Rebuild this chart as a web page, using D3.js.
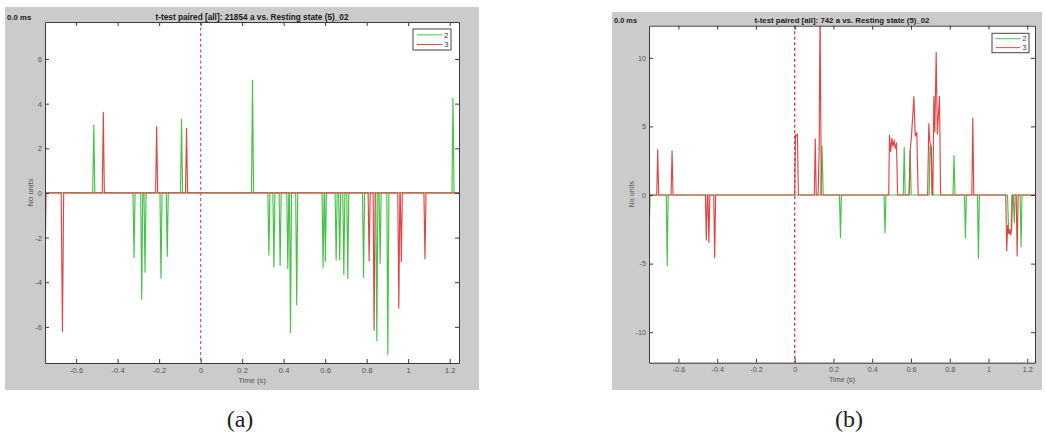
<!DOCTYPE html>
<html><head><meta charset="utf-8">
<script src="https://cdn.jsdelivr.net/npm/d3@7/dist/d3.min.js"></script>
<style>body{margin:0;background:#fff}svg{display:block}</style>
</head><body><svg id="c" width="1046" height="436"></svg>
<script>
// ---------- data ----------
const seriesNames = ["2", "3"];
const xTicks = [-0.6, -0.4, -0.2, 0, 0.2, 0.4, 0.6, 0.8, 1, 1.2];
const yTicksA = [-6, -4, -2, 0, 2, 4, 6];
const yTicksB = [-10, -5, 0, 5, 10];
const titleA = "t-test paired [all]: 21854 a vs. Resting state (5)_02";
const titleB = "t-test paired [all]: 742 a vs. Resting state (5)_02";
const cornerLabel = "0.0 ms";
const xLabel = "Time (s)";
const yLabel = "No units";
const captions = ["(a)", "(b)"];
const markerTime = 0;

// panel (a), series "2" : [time (s), value]
const seriesA2 = [
  [-0.75,0],
  [-0.52,0],[-0.515,3.04],[-0.51,0],
  [-0.326,0],[-0.321,-2.9],[-0.316,0],
  [-0.289,0],[-0.284,-4.76],[-0.279,0],
  [-0.273,0],[-0.268,-3.55],[-0.263,0],
  [-0.196,0],[-0.191,-3.82],[-0.186,0],
  [-0.166,0],[-0.161,-2.85],[-0.156,0],
  [-0.097,0],[-0.092,3.3],[-0.087,0],
  [0.245,0],[0.25,5.06],[0.255,0],
  [0.324,0],[0.329,-2.78],[0.334,0],
  [0.348,0],[0.353,-3.33],[0.358,0],
  [0.378,0],[0.383,-3.25],[0.388,0],
  [0.415,0],[0.42,-3.4],[0.425,0],
  [0.428,0],[0.433,-6.25],[0.438,0],
  [0.458,0],[0.463,-5.02],[0.468,0],
  [0.585,0],[0.59,-3.35],[0.595,0],
  [0.597,0],[0.601,-3.07],[0.606,0],
  [0.648,0],[0.653,-3.0],[0.658,0],
  [0.665,0],[0.67,-3.0],[0.675,0],
  [0.685,0],[0.69,-3.65],[0.695,0],
  [0.704,0],[0.709,-3.83],[0.714,0],
  [0.78,0],[0.785,-3.78],[0.79,0],
  [0.844,0],[0.849,-6.62],[0.854,0],
  [0.86,0],[0.865,-3.16],[0.87,0],
  [0.897,0],[0.902,-7.25],[0.907,0],
  [1.211,0],[1.216,4.24],[1.221,0],
  [1.245,0]
];
// panel (a), series "3"
const seriesA3 = [
  [-0.75,-3.4],[-0.745,0],
  [-0.672,0],[-0.666,-6.2],[-0.66,0],
  [-0.474,0],[-0.469,3.61],[-0.464,0],
  [-0.217,0],[-0.212,2.97],[-0.207,0],
  [-0.073,0],[-0.068,2.9],[-0.063,0],
  [0.807,0],[0.812,-3.05],[0.817,0],
  [0.831,0],[0.836,-6.15],[0.841,0],
  [0.95,0],[0.955,-5.15],[0.96,0],
  [0.962,0],[0.967,-3.08],[0.972,0],
  [1.076,0],[1.081,-2.95],[1.086,0],
  [1.245,0]
];
// panel (b), series "2"
const seriesB2 = [
  [-0.752,-3.0],[-0.746,0],
  [-0.663,0],[-0.658,-5.15],[-0.653,0],
  [0.135,0],[0.141,3.57],[0.147,0],
  [0.231,0],[0.236,-3.09],[0.241,0],
  [0.461,0],[0.466,-2.75],[0.471,0],
  [0.56,0],[0.565,3.46],[0.57,0],
  [0.591,0],[0.596,3.25],[0.601,0],
  [0.694,0],[0.698,3.6],[0.703,3.4],[0.708,0],
  [0.817,0],[0.822,2.88],[0.827,0],
  [0.876,0],[0.881,-3.09],[0.886,0],
  [0.943,0],[0.948,-4.6],[0.953,0],
  [1.098,0],[1.104,-2.6],[1.11,-2.8],[1.116,-2.7],[1.121,0],
  [1.128,0],[1.133,-2.0],[1.138,0],
  [1.163,0],[1.168,-3.77],[1.173,0],
  [1.24,0]
];
// panel (b), series "3"
const seriesB3 = [
  [-0.752,0],
  [-0.712,0],[-0.707,3.33],[-0.702,0],
  [-0.638,0],[-0.633,3.22],[-0.628,0],
  [-0.461,0],[-0.456,-3.28],[-0.451,0],
  [-0.448,0],[-0.443,-3.46],[-0.438,0],
  [-0.418,0],[-0.413,-4.57],[-0.408,0],
  [0.0,0],[0.004,4.4],[0.009,4.3],[0.014,4.45],[0.019,0],
  [0.101,0],[0.106,4.1],[0.111,0],
  [0.121,0],[0.126,3.3],[0.131,13.5],[0.137,0],
  [0.485,0],[0.489,4.37],[0.495,3.16],[0.501,4.13],[0.507,3.52],[0.513,4.0],[0.519,3.4],[0.525,3.8],[0.531,0],
  [0.59,0],[0.596,3.3],[0.603,4.4],[0.615,7.17],[0.622,4.3],[0.63,4.55],[0.637,0],
  [0.686,0],[0.692,5.2],[0.698,3.8],[0.705,3.5],[0.71,0],
  [0.713,0],[0.718,7.2],[0.723,4.6],[0.73,10.4],[0.736,4.45],[0.747,7.2],[0.753,0],
  [0.914,0],[0.919,5.6],[0.924,0],
  [1.089,0],[1.094,-4.08],[1.099,-2.2],[1.104,-2.8],[1.109,-2.5],[1.114,-2.9],[1.119,-2.6],[1.124,0],
  [1.143,0],[1.148,-4.45],[1.153,0],
  [1.24,0]
];

// ---------- drawing ----------
const colors = ["#46c246", "#e04545"];
const FONT = "'Liberation Sans', Arial, sans-serif";
const svg = d3.select("#c");

const panels = [
  { id: "a", bg: [5, 7, 479, 390], left: 45, right: 459, top: 22, bottom: 363,
    xDomain: [-0.75, 1.245], yDomain: [-7.62, 7.66], yTicks: yTicksA,
    series: [seriesA2, seriesA3], title: titleA, titleW: 193, titleY: 19.5,
    legend: { x: 413, y: 29, w: 38, h: 21 }, cap: { x: 240 }, yLabX: 32.5, fs: 7.6,
    dash: "#dc5a78" },
  { id: "b", bg: [612, 12, 1042, 390], left: 649, right: 1035, top: 25.7, bottom: 362.7,
    xDomain: [-0.752, 1.24], yDomain: [-12.22, 12.34], yTicks: yTicksB,
    series: [seriesB2, seriesB3], title: titleB, titleW: 175, titleY: 22.8,
    legend: { x: 992, y: 33.3, w: 37, h: 19.4 }, cap: { x: 849 }, yLabX: 634, fs: 7.2,
    dash: "#c8324e" }
];

panels.forEach((p, pi) => {
  const g = svg.append("g");
  g.append("rect").attr("x", p.bg[0]).attr("y", p.bg[1])
    .attr("width", p.bg[2] - p.bg[0]).attr("height", p.bg[3] - p.bg[1]).attr("fill", "#cbcbcb");
  const x = d3.scaleLinear().domain(p.xDomain).range([p.left, p.right]);
  const y = d3.scaleLinear().domain(p.yDomain).range([p.bottom, p.top]);
  g.append("rect").attr("x", p.left).attr("y", p.top)
    .attr("width", p.right - p.left).attr("height", p.bottom - p.top).attr("fill", "#fff");

  const clipId = "clip" + p.id;
  g.append("clipPath").attr("id", clipId).append("rect")
    .attr("x", p.left).attr("y", p.top).attr("width", p.right - p.left).attr("height", p.bottom - p.top);
  const plot = g.append("g").attr("clip-path", `url(#${clipId})`);

  const line = d3.line().x(d => x(d[0])).y(d => y(d[1]));
  p.series.forEach((s, si) => {
    plot.append("path").datum(s).attr("d", line)
      .attr("fill", "none").attr("stroke", colors[si]).attr("stroke-width", 1.15)
      .attr("stroke-linejoin", "round");
  });

  // dashed event marker at t = 0
  plot.append("line").attr("x1", x(markerTime)).attr("x2", x(markerTime))
    .attr("y1", p.top).attr("y2", p.bottom)
    .attr("stroke", p.dash).attr("stroke-width", 1.3).attr("stroke-dasharray", "3,2.5");

  const fmt = d => String(d);
  const styleAxis = (ax) => {
    ax.selectAll("path.domain").attr("stroke", "#3a3a3a");
    ax.selectAll(".tick line").attr("stroke", "#3a3a3a");
    ax.selectAll("text").attr("fill", "#555").style("font-family", FONT).style("font-size", p.fs + "px");
  };
  styleAxis(g.append("g").attr("transform", `translate(0,${p.bottom})`)
    .call(d3.axisBottom(x).tickValues(xTicks).tickFormat(fmt).tickSizeInner(-4).tickSizeOuter(0).tickPadding(4.5)));
  styleAxis(g.append("g").attr("transform", `translate(0,${p.top})`)
    .call(d3.axisTop(x).tickValues(xTicks).tickFormat("").tickSizeInner(-4).tickSizeOuter(0)));
  styleAxis(g.append("g").attr("transform", `translate(${p.left},0)`)
    .call(d3.axisLeft(y).tickValues(p.yTicks).tickFormat(fmt).tickSizeInner(-4).tickSizeOuter(0).tickPadding(3)));
  styleAxis(g.append("g").attr("transform", `translate(${p.right},0)`)
    .call(d3.axisRight(y).tickValues(p.yTicks).tickFormat("").tickSizeInner(-4).tickSizeOuter(0)));

  // texts
  const cx = (p.left + p.right) / 2;
  g.append("text").attr("x", cx).attr("y", p.titleY).attr("text-anchor", "middle")
    .attr("textLength", p.titleW).attr("lengthAdjust", "spacingAndGlyphs")
    .style("font-family", FONT).style("font-weight", "bold").style("font-size", (p.fs + 0.8) + "px")
    .attr("fill", "#1a1a1a").text(p.title);
  g.append("text").attr("x", p.bg[0] + 2).attr("y", p.titleY)
    .style("font-family", FONT).style("font-weight", "bold").style("font-size", (p.fs + 0.2) + "px")
    .attr("fill", "#1a1a1a").text(cornerLabel);
  g.append("text").attr("x", cx).attr("y", p.bottom + 19.5).attr("text-anchor", "middle")
    .style("font-family", FONT).style("font-size", p.fs + "px").attr("fill", "#555").text(xLabel);
  g.append("text").attr("transform", `translate(${p.yLabX},${(p.top + p.bottom) / 2}) rotate(-90)`)
    .attr("text-anchor", "middle")
    .style("font-family", FONT).style("font-size", p.fs + "px").attr("fill", "#555").text(yLabel);

  // legend
  const L = p.legend;
  const lg = g.append("g");
  lg.append("rect").attr("x", L.x).attr("y", L.y).attr("width", L.w).attr("height", L.h)
    .attr("fill", "#fff").attr("stroke", "#444").attr("stroke-width", 1);
  seriesNames.forEach((n, i) => {
    const yy = L.y + L.h * (0.28 + 0.46 * i);
    lg.append("line").attr("x1", L.x + 4).attr("x2", L.x + L.w - 9).attr("y1", yy).attr("y2", yy)
      .attr("stroke", colors[i]).attr("stroke-width", 1);
    lg.append("text").attr("x", L.x + L.w - 2.5).attr("y", yy + 2.7).attr("text-anchor", "end")
      .style("font-family", FONT).style("font-size", p.fs + "px").attr("fill", "#333").text(n);
  });

  // caption
  svg.append("text").attr("x", p.cap.x).attr("y", 427).attr("text-anchor", "middle")
    .style("font-family", "'Liberation Serif', 'DejaVu Serif', serif").style("font-size", "24px")
    .attr("fill", "#222").text(captions[pi]);
});
</script></body></html>
